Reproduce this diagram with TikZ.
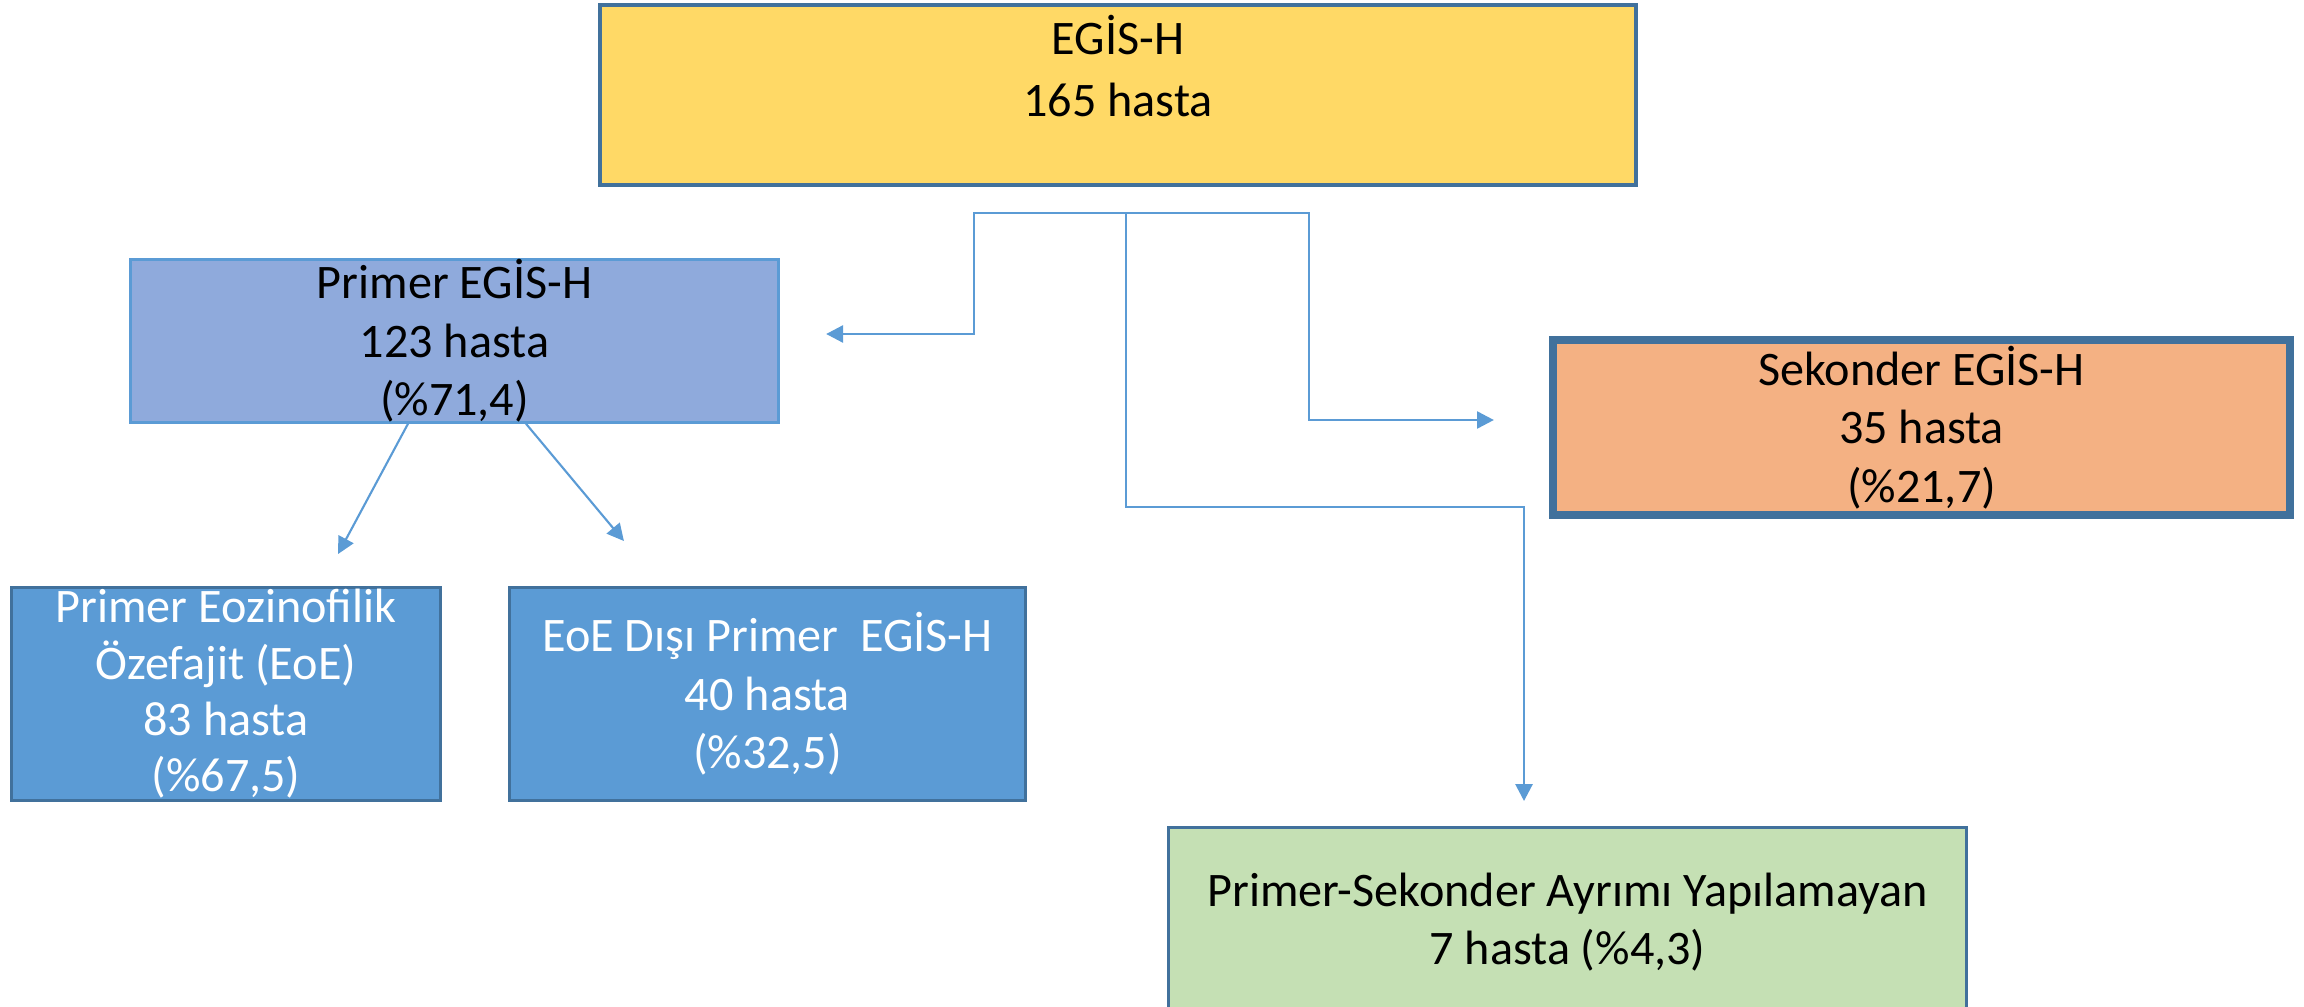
\documentclass[tikz,border=0pt]{standalone}
\usepackage{fontspec}
\setmainfont{Carlito}
\usetikzlibrary{arrows.meta}
\definecolor{topfill}{HTML}{FFD966}
\definecolor{primfill}{HTML}{8FAADC}
\definecolor{sekfill}{HTML}{F4B183}
\definecolor{boxblue}{HTML}{5B9BD5}
\definecolor{greenfill}{HTML}{C5E0B4}
\definecolor{edgeblue}{HTML}{41719C}

\begin{document}
\begin{tikzpicture}[x=0.01cm,y=-0.01cm,>={Triangle[length=4.8pt,width=4.8pt]},
                    main node/.style={rectangle,draw=edgeblue,line width=0.8pt,align=center,
                      inner sep=0pt,font=\fontsize{13.7pt}{16.6pt}\selectfont},
                    link/.style={->,draw=boxblue,line width=0.8pt}]

  \path[use as bounding box,clip] (0,0) rectangle (2304,1006);

  \node[main node,fill=topfill,line width=1.2pt,minimum width=10.36cm,minimum height=1.80cm] (1) at (1118,95)
    {EGİS-H\\[1pt]165 hasta\\\mbox{}};
  \node[main node,fill=primfill,draw=boxblue,minimum width=6.48cm,minimum height=1.55cm] (2) at (454.5,341)
    {Primer EGİS-H\\123 hasta\\(\%71,4)};
  \node[main node,fill=sekfill,line width=2.2pt,minimum width=7.37cm,minimum height=1.75cm] (3) at (1921.5,427.5)
    {Sekonder EGİS-H\\35 hasta\\(\%21,7)};
  \node[main node,fill=boxblue,text=white,minimum width=4.29cm,minimum height=2.13cm,
        font=\fontsize{13.7pt}{16pt}\selectfont] (4) at (226,694)
    {Primer Eozinofilik\\Özefajit (EoE)\\83 hasta\\(\%67,5)};
  \node[main node,fill=boxblue,text=white,minimum width=5.16cm,minimum height=2.13cm] (5) at (767.5,694)
    {EoE Dışı Primer~ EGİS-H\\40 hasta\\(\%32,5)};
  \node[main node,fill=greenfill,minimum width=7.98cm,minimum height=1.89cm] (6) at (1567.5,922)
    {Primer-Sekonder Ayrımı Yapılamayan\\7 hasta (\%4,3)};

  \coordinate (split) at (1126,213);
  \coordinate (bend) at (1524,507);

  \draw[link,shorten >=0.46cm] (split) -- ++(-152,0) |- ([yshift=0.07cm]2.east);
  \draw[link,shorten >=0.55cm] (split) -- ++(183,0) |- ([yshift=0.075cm]3.west);
  \draw[link,shorten >=0.25cm] (split) |- (bend) -- (bend |- 6.north);
  \draw[link,line width=0.6pt] ([xshift=-0.465cm]2.south) -- ([xshift=1.12cm,yshift=0.32cm]4.north);
  \draw[link,line width=0.6pt] ([xshift=0.715cm]2.south) -- ([xshift=-1.435cm,yshift=0.45cm]5.north);
\end{tikzpicture}
\end{document}
